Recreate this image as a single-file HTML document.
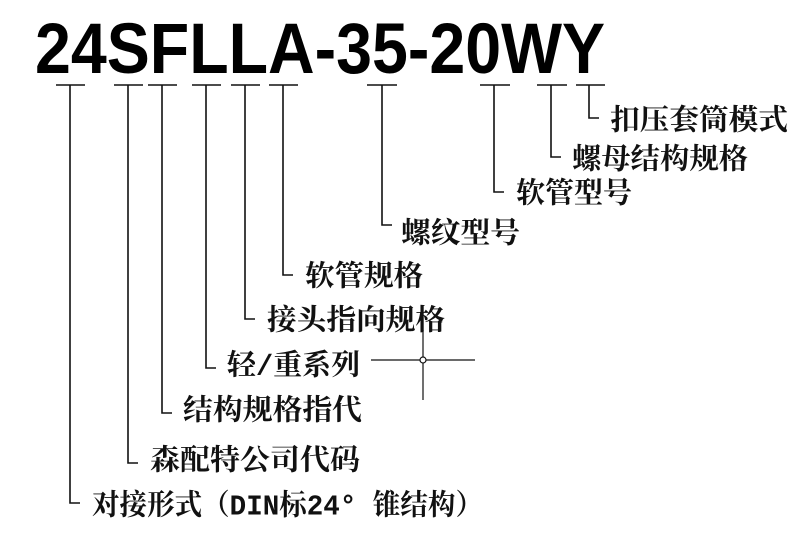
<!DOCTYPE html>
<html><head><meta charset="utf-8"><style>
html,body{margin:0;padding:0;background:#fff;}
svg{display:block;}
.t{font-family:"Liberation Mono","Noto Serif CJK SC",serif;font-weight:bold;font-size:29px;fill:#111;dominant-baseline:central;}
</style></head><body>
<svg width="811" height="542" viewBox="0 0 811 542" xmlns="http://www.w3.org/2000/svg">
<text x="35" y="73" textLength="570" lengthAdjust="spacingAndGlyphs" style="font-family:'Liberation Sans Narrow','Liberation Sans',sans-serif;font-weight:bold;font-size:71px;fill:#000;">24SFLLA-35-20WY</text>
<g stroke="#111" stroke-width="1.6" fill="none">
<path d="M56 85H85M70 85V503H80"/>
<path d="M114 85H143M128 85V463H138"/>
<path d="M148 85H177M162 85V413H172"/>
<path d="M192 85H221M206 85V368H216"/>
<path d="M231 85H260M245 85V319H255"/>
<path d="M269 85H298M283 85V275H293"/>
<path d="M367 85H397M382 85V225H392"/>
<path d="M480 85H510M494 85V192H504"/>
<path d="M537 85H567M551 85V157H561"/>
<path d="M576 85H605M589 85V118H599"/>
<path d="M371 360H475M423 330V400" stroke-width="1.2"/>
</g>
<circle cx="423" cy="360" r="3" fill="#fff" stroke="#111" stroke-width="1.2"/>
<text class="t" x="610" y="122" textLength="178" lengthAdjust="spacingAndGlyphs">扣压套筒模式</text>
<text class="t" x="572" y="161" textLength="176" lengthAdjust="spacingAndGlyphs">螺母结构规格</text>
<text class="t" x="516" y="195" textLength="116" lengthAdjust="spacingAndGlyphs">软管型号</text>
<text class="t" x="401" y="235" textLength="119" lengthAdjust="spacingAndGlyphs">螺纹型号</text>
<text class="t" x="305" y="278" textLength="118" lengthAdjust="spacingAndGlyphs">软管规格</text>
<text class="t" x="267" y="322" textLength="178" lengthAdjust="spacingAndGlyphs">接头指向规格</text>
<text class="t" x="227" y="367" textLength="133" lengthAdjust="spacingAndGlyphs">轻/重系列</text>
<text class="t" x="183" y="412" textLength="179" lengthAdjust="spacingAndGlyphs">结构规格指代</text>
<text class="t" x="150" y="462" textLength="210" lengthAdjust="spacingAndGlyphs">森配特公司代码</text>
<text class="t" x="92" y="507" textLength="391" lengthAdjust="spacingAndGlyphs">对接形式（DIN标24° 锥结构）</text>
</svg>
</body></html>
